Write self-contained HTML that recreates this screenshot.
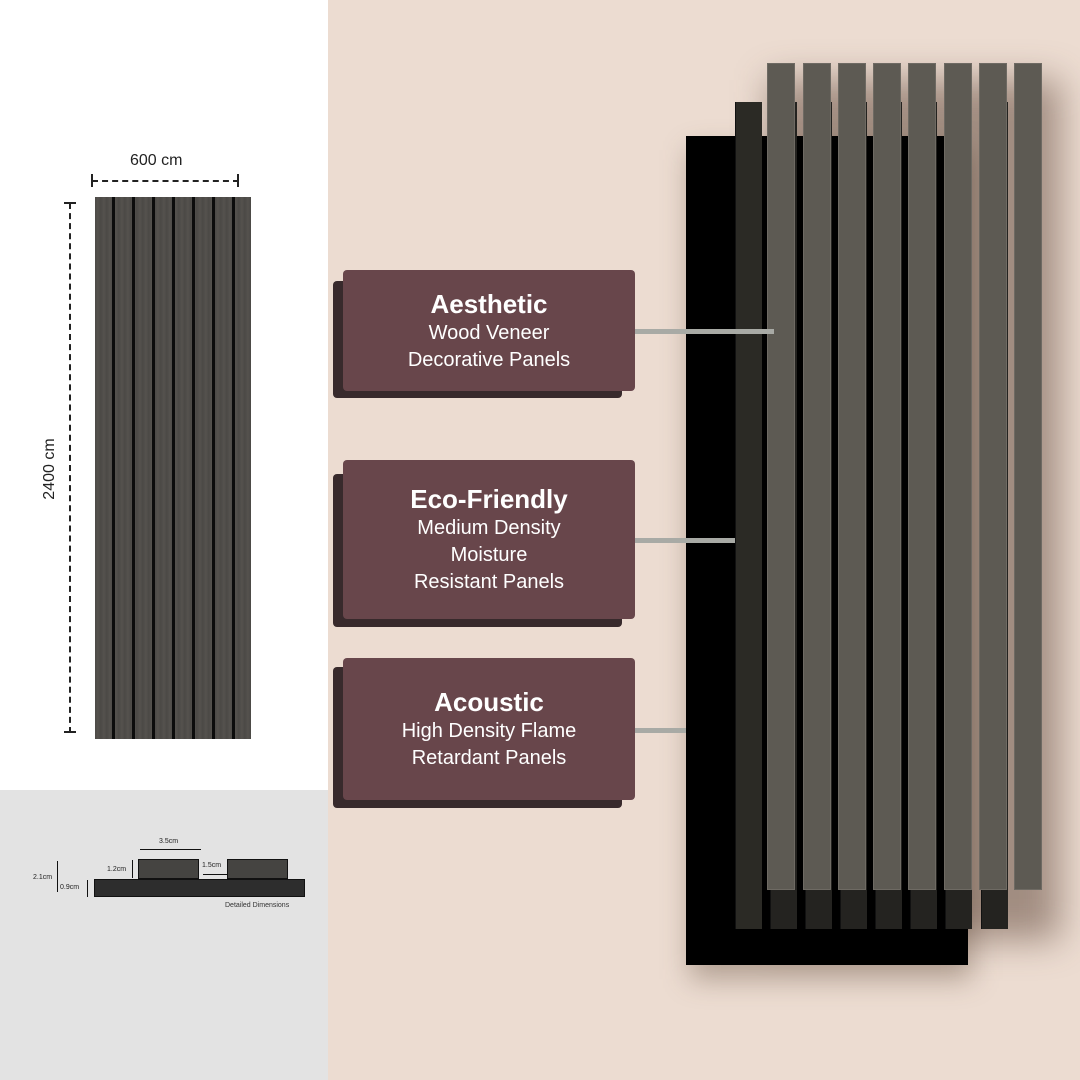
<!DOCTYPE html>
<html><head><meta charset="utf-8"><style>
*{margin:0;padding:0;box-sizing:border-box}
body{width:1080px;height:1080px;position:relative;overflow:hidden;background:#ecdcd1;font-family:"Liberation Sans",sans-serif}
.a{position:absolute}
.box{position:absolute;left:343px;width:292px;background:#68464b;border-radius:4px;color:#fff;text-align:center;display:flex;flex-direction:column;justify-content:center;font-size:20px;line-height:27px}
.box b{font-size:26px;line-height:32px}
.sh{position:absolute;left:333px;width:289px;background:#382a2c;border-radius:4px}
.fs{position:absolute;top:63px;height:827px;width:28px;background:#5d5a53;border:1px solid #6e6a63}
.bs{position:absolute;top:102px;height:827px;width:27px;background:#242320;border-left:1px solid #111}
.ln{position:absolute;height:5px;background:#a8aaa5}
</style></head><body>
<div class="a" style="left:0;top:0;width:328px;height:790px;background:#fff"></div>
<div class="a" style="left:0;top:790px;width:328px;height:290px;background:#e3e3e3"></div>

<!-- left panel -->
<div class="a" style="left:130px;top:152px;font-size:16px;color:#222">600 cm</div>
<div class="a" style="left:92px;top:180px;width:147px;border-top:2px dashed #222"></div>
<div class="a" style="left:91px;top:174px;width:2px;height:13px;background:#222"></div>
<div class="a" style="left:237px;top:174px;width:2px;height:13px;background:#222"></div>
<div class="a" style="left:69px;top:203px;height:530px;border-left:2px dashed #222"></div>
<div class="a" style="left:64px;top:202px;width:12px;height:2px;background:#222"></div>
<div class="a" style="left:64px;top:731px;width:12px;height:2px;background:#222"></div>
<div class="a" style="left:10px;top:459px;width:80px;font-size:16px;line-height:20px;color:#222;transform:rotate(-90deg);text-align:center;white-space:nowrap">2400 cm</div>
<div class="a" style="left:95px;top:197px;width:156px;height:542px;background:repeating-linear-gradient(90deg,#4c4a47 0,#55524e 3px,#4a4845 6px);"></div>
<div class="a" style="left:112px;top:197px;width:3px;height:542px;background:#0c0c0c"></div>
<div class="a" style="left:132px;top:197px;width:3px;height:542px;background:#0c0c0c"></div>
<div class="a" style="left:152px;top:197px;width:3px;height:542px;background:#0c0c0c"></div>
<div class="a" style="left:172px;top:197px;width:3px;height:542px;background:#0c0c0c"></div>
<div class="a" style="left:192px;top:197px;width:3px;height:542px;background:#0c0c0c"></div>
<div class="a" style="left:212px;top:197px;width:3px;height:542px;background:#0c0c0c"></div>
<div class="a" style="left:232px;top:197px;width:3px;height:542px;background:#0c0c0c"></div>

<!-- cross section -->
<div class="a" style="left:94px;top:879px;width:211px;height:18px;background:#2d2d2d;border:1px solid #111"></div>
<div class="a" style="left:138px;top:859px;width:61px;height:20px;background:#454441;border:1px solid #111"></div>
<div class="a" style="left:227px;top:859px;width:61px;height:20px;background:#454441;border:1px solid #111"></div>
<div class="a" style="left:140px;top:849px;width:61px;border-top:1px solid #111"></div>
<div class="a" style="left:159px;top:838px;font-size:7px;color:#222">3.5cm</div>
<div class="a" style="left:203px;top:874px;width:24px;border-top:1px solid #111"></div>
<div class="a" style="left:202px;top:862px;font-size:7px;color:#222">1.5cm</div>
<div class="a" style="left:107px;top:866px;font-size:7px;color:#222">1.2cm</div>
<div class="a" style="left:132px;top:860px;height:18px;border-left:1px solid #111"></div>
<div class="a" style="left:33px;top:874px;font-size:7px;color:#222">2.1cm</div>
<div class="a" style="left:57px;top:861px;height:31px;border-left:1px solid #111"></div>
<div class="a" style="left:60px;top:884px;font-size:7px;color:#222">0.9cm</div>
<div class="a" style="left:87px;top:880px;height:17px;border-left:1px solid #111"></div>
<div class="a" style="left:225px;top:902px;font-size:7px;color:#333">Detailed Dimensions</div>

<!-- 3d render -->
<div class="a" style="left:770px;top:80px;width:290px;height:860px;background:rgba(70,45,30,.45);filter:blur(18px)"></div>
<div class="a" style="left:690px;top:150px;width:282px;height:829px;background:rgba(70,45,30,.35);filter:blur(14px)"></div>
<div class="a" style="left:686px;top:136px;width:282px;height:829px;background:#000"></div>
<div class="bs" style="left:735px;background:#2b2a25"></div>
<div class="bs" style="left:770px"></div>
<div class="bs" style="left:805px"></div>
<div class="bs" style="left:840px"></div>
<div class="bs" style="left:875px"></div>
<div class="bs" style="left:910px"></div>
<div class="bs" style="left:945px"></div>
<div class="bs" style="left:981px"></div>
<div class="fs" style="left:767px"></div>
<div class="fs" style="left:803px"></div>
<div class="fs" style="left:838px"></div>
<div class="fs" style="left:873px"></div>
<div class="fs" style="left:908px"></div>
<div class="fs" style="left:944px"></div>
<div class="fs" style="left:979px"></div>
<div class="fs" style="left:1014px"></div>

<!-- connectors -->
<div class="ln" style="left:635px;top:329px;width:139px"></div>
<div class="ln" style="left:635px;top:538px;width:100px"></div>
<div class="ln" style="left:635px;top:728px;width:51px"></div>

<!-- boxes -->
<div class="sh" style="top:281px;height:117px"></div>
<div class="box" style="top:270px;height:121px"><b>Aesthetic</b>Wood Veneer<br>Decorative Panels</div>
<div class="sh" style="top:474px;height:153px"></div>
<div class="box" style="top:460px;height:159px"><b>Eco-Friendly</b>Medium Density<br>Moisture<br>Resistant Panels</div>
<div class="sh" style="top:667px;height:141px"></div>
<div class="box" style="top:658px;height:142px"><b>Acoustic</b>High Density Flame<br>Retardant Panels</div>
</body></html>
